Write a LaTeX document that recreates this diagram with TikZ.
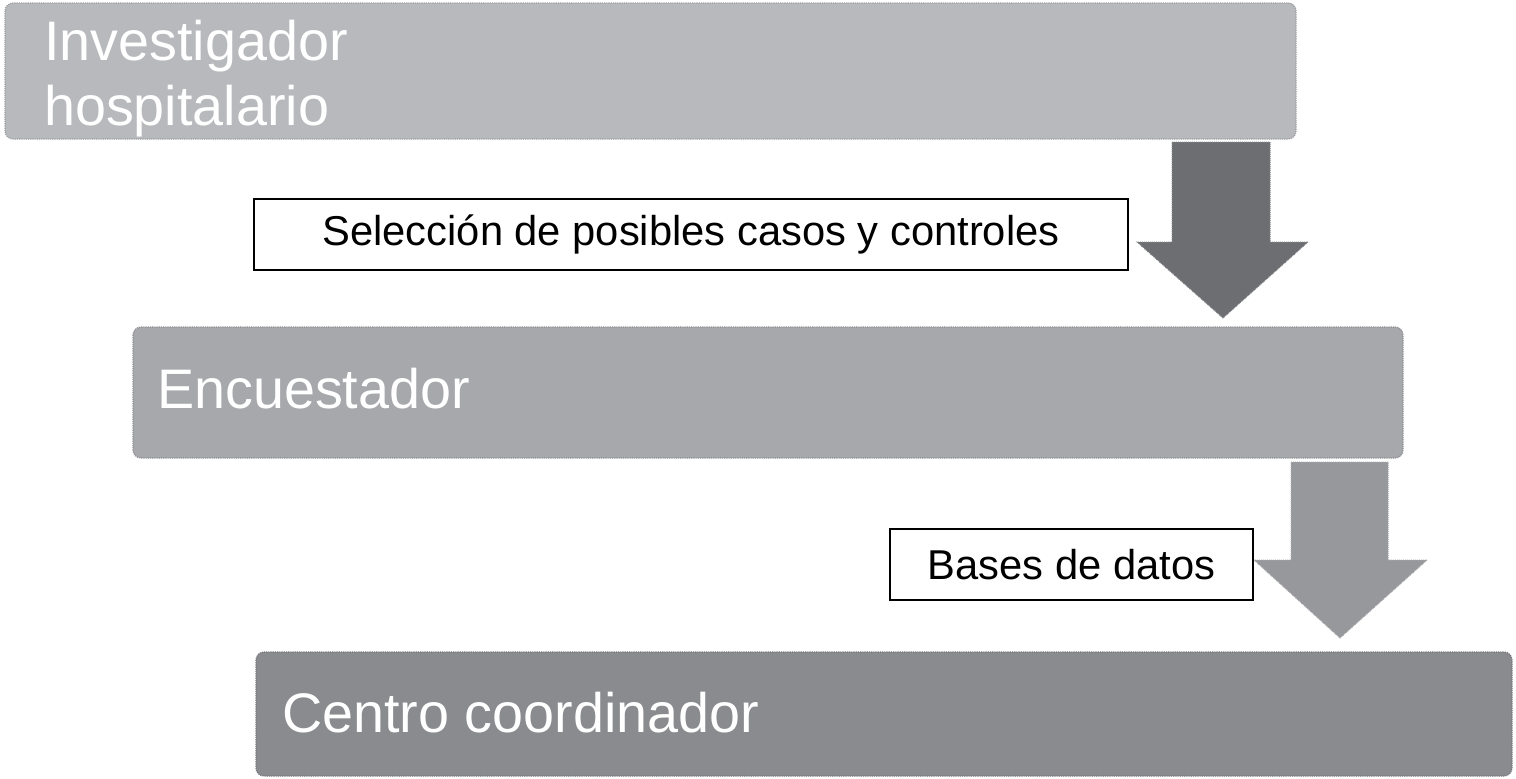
\documentclass[tikz,border=0pt]{standalone}
\usepackage{fontspec}
\setmainfont{Liberation Sans}
\begin{document}
\begin{tikzpicture}[x=1pt,y=-1pt,
  stage/.style={rounded corners=8pt, draw=#1!85!black, densely dotted, line width=1.2pt, fill=#1},
  stagetext/.style={anchor=base west, inner sep=0pt, text=white, font=\fontsize{55.7}{65}\selectfont},
  labelbox/.style={draw=black, line width=2pt, fill=white, inner sep=0pt, font=\fontsize{41.7}{48}\selectfont},
  blockarrow/.style={fill=#1, draw=#1!85!white, densely dotted, line width=1pt}]
\definecolor{gA}{HTML}{B8B9BD}
\definecolor{gB}{HTML}{A7A8AC}
\definecolor{gC}{HTML}{8A8B8F}
\definecolor{aA}{HTML}{6D6E72}
\definecolor{aB}{HTML}{97989C}
\useasboundingbox (0,0) rectangle (1516,779);
\fill[white] (0,0) rectangle (1516,779);
% stage boxes
\path[stage=gA] (5,3) rectangle (1296,139);
\node[stagetext] (inv1) at (44,60) {Investigador};
\node[stagetext] (inv2) at (44,125) {hospitalario};
\path[stage=gB] (133,327) rectangle (1403,458);
\node[stagetext] (enc) at (157,408) {Encuestador};
\path[stage=gC] (256,652) rectangle (1512,776);
\node[stagetext] (cen) at (282,732) {Centro coordinador};
% block arrows
\path[blockarrow=aA] (1172,142) -- (1270,142) -- (1270,242) -- (1308,242) -- (1223,318) -- (1137,242) -- (1172,242) -- cycle;
\path[blockarrow=aB] (1291,462) -- (1388,462) -- (1388,560) -- (1427,560) -- (1340,638) -- (1254,560) -- (1291,560) -- cycle;
% labels
\node[labelbox, minimum width=874pt, minimum height=71pt] (lab1) at (691,234.5) {Selección de posibles casos y controles};
\node[labelbox, minimum width=363pt, minimum height=71pt] (lab2) at (1071.5,564.5) {Bases de datos};
\end{tikzpicture}
\end{document}
